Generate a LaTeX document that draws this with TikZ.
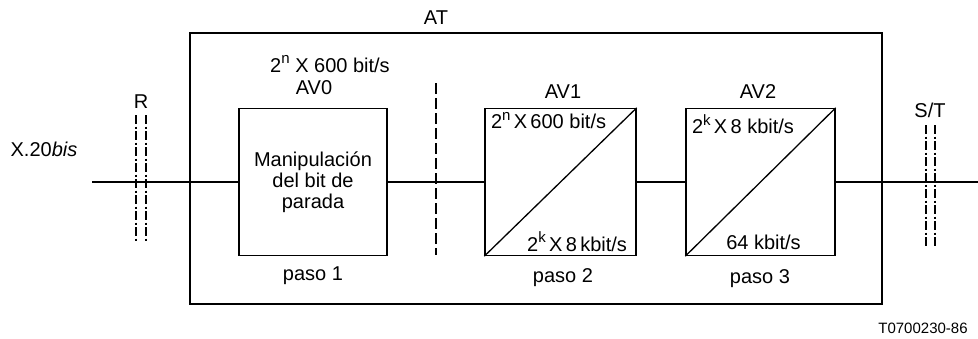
\documentclass[tikz,border=0pt]{standalone}
\usepackage{fontspec}
\setmainfont{Liberation Sans}
\newcommand{\supr}[1]{\raisebox{0.42em}{\fontsize{15}{15}\selectfont #1}}
\begin{document}
\begin{tikzpicture}[x=1pt,y=-1pt,line width=1.3pt,
  lbl/.style={font=\fontsize{20}{22}\selectfont, inner sep=0pt},
  blk/.style={draw, rectangle, inner sep=0pt},
  inner/.style={font=\fontsize{20}{22}\selectfont, inner sep=1pt, fill=white},
  refline/.style={line width=1.3pt, dash pattern=on 9pt off 2.5pt on 2pt off 2.5pt},
  sepline/.style={line width=1.3pt, dash pattern=on 11pt off 4pt}]
\useasboundingbox (0,0) rectangle (978,338);
% AT frame
\node[blk, minimum width=692pt, minimum height=271pt] (at) at (536,168.5) {};
\node[lbl] (atl) at (436,18) {AT};
% boxes
\node[blk, minimum width=148pt, minimum height=147pt, align=center, font=\fontsize{20}{21}\selectfont] (av0) at (313,182)
  {Manipulación\\del bit de\\parada};
\node[blk, minimum width=151pt, minimum height=147pt] (av1) at (560.5,182) {};
\node[blk, minimum width=149pt, minimum height=147pt] (av2) at (760.5,182) {};
% diagonals
\draw (av1.south west) -- (av1.north east);
\draw (av2.south west) -- (av2.north east);
% inner labels
\node[inner, anchor=north west] (a1t) at ([xshift=5pt,yshift=-3pt]av1.north west) {2\supr{n}\,X\,600 bit/s};
\node[inner, anchor=south east] (a1b) at ([xshift=-8pt,yshift=3pt]av1.south east) {2\supr{k}\,X\,8\,kbit/s};
\node[inner, anchor=north west] (a2t) at ([xshift=5pt,yshift=-5pt]av2.north west) {2\supr{k}\,X\,8 kbit/s};
\node[inner, anchor=south] (a2b) at ([xshift=3pt,yshift=5pt]av2.south) {64 kbit/s};
% labels above/below
\node[lbl] (rate0) at (330,64) {2\supr{n} X 600 bit/s};
\node[lbl] (n0) at (314,88) {AV0};
\node[lbl] (n1) at (563,92) {AV1};
\node[lbl] (n2) at (758,92) {AV2};
\node[lbl] (p1) at (313,276) {paso 1};
\node[lbl] (p2) at (563,278) {paso 2};
\node[lbl] (p3) at (760,279) {paso 3};
\node[lbl, anchor=west] (x20) at (10,149) {X.20\textit{bis}};
\node[lbl] (rl) at (141,102) {R};
\node[lbl] (stl) at (930,110) {S/T};
\node[font=\fontsize{15}{17}\selectfont, inner sep=0pt] (ref) at (923,328) {T0700230-86};
% main line
\coordinate (lin) at (92,182);
\coordinate (lout) at (978,182);
\draw (lin) -- (av0.west);
\draw (av0.east) -- (av1.west);
\draw (av1.east) -- (av2.west);
\draw (av2.east) -- (lout);
% reference points
\coordinate (r1a) at (136,115); \coordinate (r1b) at (136,242);
\coordinate (r2a) at (146,115); \coordinate (r2b) at (146,242);
\draw[refline] (r1a) -- (r1b);
\draw[refline] (r2a) -- (r2b);
\coordinate (s1a) at (926,125); \coordinate (s1b) at (926,248);
\coordinate (s2a) at (935,125); \coordinate (s2b) at (935,248);
\draw[refline] (s1a) -- (s1b);
\draw[refline] (s2a) -- (s2b);
% separator
\coordinate (d1) at (436,83); \coordinate (d2) at (436,255);
\draw[sepline] (d1) -- (d2);
\end{tikzpicture}
\end{document}
